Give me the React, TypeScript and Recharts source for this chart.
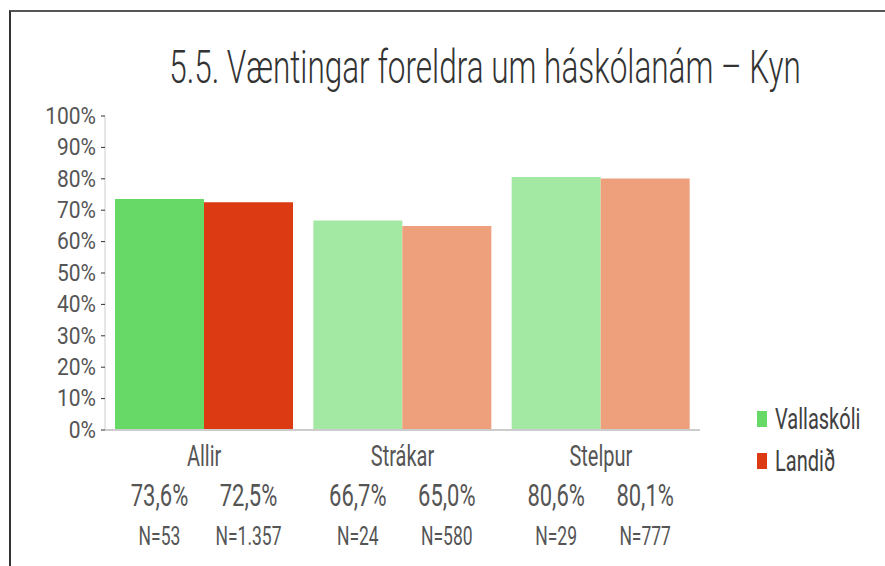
import { BarChart, Bar, XAxis, YAxis, Cell, LabelList, Legend } from "recharts";

const categories = ["Allir", "Strákar", "Stelpur"];
const vallaskoli = [73.6, 66.7, 80.6];
const landid = [72.5, 65.0, 80.1];
const nVallaskoli = [53, 24, 29];
const nLandid = [1357, 580, 777];
const yTicks = [0, 10, 20, 30, 40, 50, 60, 70, 80, 90, 100];
const seriesNames = ["Vallaskóli", "Landið"];

// first group is drawn saturated, the gender groups pale
const vallaskoliColors = ["#66d966", "#a3e8a3", "#a3e8a3"];
const landidColors = ["#dc3a12", "#eea07c", "#eea07c"];

const FONT = "Roboto, 'Liberation Sans', sans-serif";
const TEXT = "#555555";
const STRETCH = 1.45;

const data = categories.map((c, i) => ({
  name: c,
  vallaskoli: vallaskoli[i],
  landid: landid[i],
}));

const fmtPct = (v: number) => v.toFixed(1).replace(".", ",") + "%";
const fmtN = (n: number) => "N=" + String(n).replace(/\B(?=(\d{3})+(?!\d))/g, ".");

function bottomLabel(nList: number[], values: number[]) {
  return (props: any) => {
    const { x, y, width, height, value } = props;
    let index = props.index;
    if (index == null) index = values.indexOf(value);
    const cx = Number(x) + Number(width) / 2;
    const base = Number(y) + Number(height);
    return (
      <g>
        <text x={cx} y={base + 66} textAnchor="middle" dominantBaseline="central"
          fontSize={22} fill={TEXT} fontFamily={FONT}>
          {fmtPct(Number(value))}
        </text>
        <text x={cx} y={base + 106} textAnchor="middle" dominantBaseline="central"
          fontSize={17.5} fill={TEXT} fontFamily={FONT}>
          {fmtN(nList[index])}
        </text>
      </g>
    );
  };
}

const CategoryTick = (props: any) => {
  const { x, y, payload } = props;
  return (
    <text x={x} y={y + 18} textAnchor="middle" dominantBaseline="central"
      fontSize={20} fill={TEXT} fontFamily={FONT}>
      {payload.value}
    </text>
  );
};

const PercentTick = (props: any) => {
  const { x, y, payload } = props;
  return (
    <text className="ytick" x={x} y={y} textAnchor="end" dominantBaseline="central"
      fontSize={21} fill={TEXT} fontFamily={FONT}>
      {`${payload.value}%`}
    </text>
  );
};

const legendColors = [vallaskoliColors[0], landidColors[0]];

// own order: Recharts would list the series the other way round
const LegendContent = () => (
  <div style={{ fontFamily: FONT, fontSize: 20, color: "#404040" }}>
    {seriesNames.map((name, i) => (
      <div key={name} style={{ display: "flex", alignItems: "center", height: 42 }}>
        <span style={{ display: "inline-block", width: 10, height: 16, background: legendColors[i], marginRight: 8 }} />
        <span style={{ display: "inline-block", transform: `scaleY(${STRETCH})` }}>{name}</span>
      </div>
    ))}
  </div>
);

export default function App() {
  return (
    <div style={{ position: "absolute", left: 0, top: 0, width: 885, height: 566, background: "#fff", overflow: "hidden" }}>
      <style>{`
        .rc text { transform-box: fill-box; transform-origin: center; transform: scaleY(${STRETCH}); }
        .rc text.ytick { transform: scaleY(1.1); }
      `}</style>
      <div style={{ position: "absolute", left: 9, top: 10, right: -10, bottom: -10, borderTop: "2px solid #555", borderLeft: "2px solid #333" }} />
      <svg className="rc" width={885} height={110} style={{ position: "absolute", left: 0, top: 0 }}>
        <text x={485} y={68} textAnchor="middle" dominantBaseline="central"
          fontSize={31.5} fontWeight={300} fill="#333333" fontFamily={FONT}>
          5.5. Væntingar foreldra um háskólanám – Kyn
        </text>
      </svg>
      <div className="rc" style={{ position: "absolute", left: 0, top: 0 }}>
        <BarChart
          width={885}
          height={566}
          data={data}
          margin={{ top: 116, right: 185, left: 0, bottom: 0 }}
          barCategoryGap={10}
          barGap={0}
        >
          <YAxis
            type="number"
            domain={[0, 100]}
            ticks={yTicks}
            interval={0}
            width={105}
            axisLine={{ stroke: "#cccccc" }}
            tickLine={{ stroke: "#333333" }}
            tickSize={4}
            tickMargin={5}
            tick={<PercentTick />}
          />
          <XAxis
            dataKey="name"
            height={136}
            axisLine={{ stroke: "#cccccc", strokeWidth: 2 }}
            tickLine={false}
            tick={<CategoryTick />}
          />
          <Legend
            layout="vertical"
            align="center"
            verticalAlign="middle"
            wrapperStyle={{ left: 757, top: 398, width: 120 }}
            content={<LegendContent />}
          />
          <Bar dataKey="vallaskoli" name={seriesNames[0]} fill={vallaskoliColors[0]} isAnimationActive={false}>
            {data.map((_, i) => <Cell key={i} fill={vallaskoliColors[i]} />)}
            <LabelList dataKey="vallaskoli" content={bottomLabel(nVallaskoli, vallaskoli)} />
          </Bar>
          <Bar dataKey="landid" name={seriesNames[1]} fill={landidColors[0]} isAnimationActive={false}>
            {data.map((_, i) => <Cell key={i} fill={landidColors[i]} />)}
            <LabelList dataKey="landid" content={bottomLabel(nLandid, landid)} />
          </Bar>
        </BarChart>
      </div>
    </div>
  );
}
